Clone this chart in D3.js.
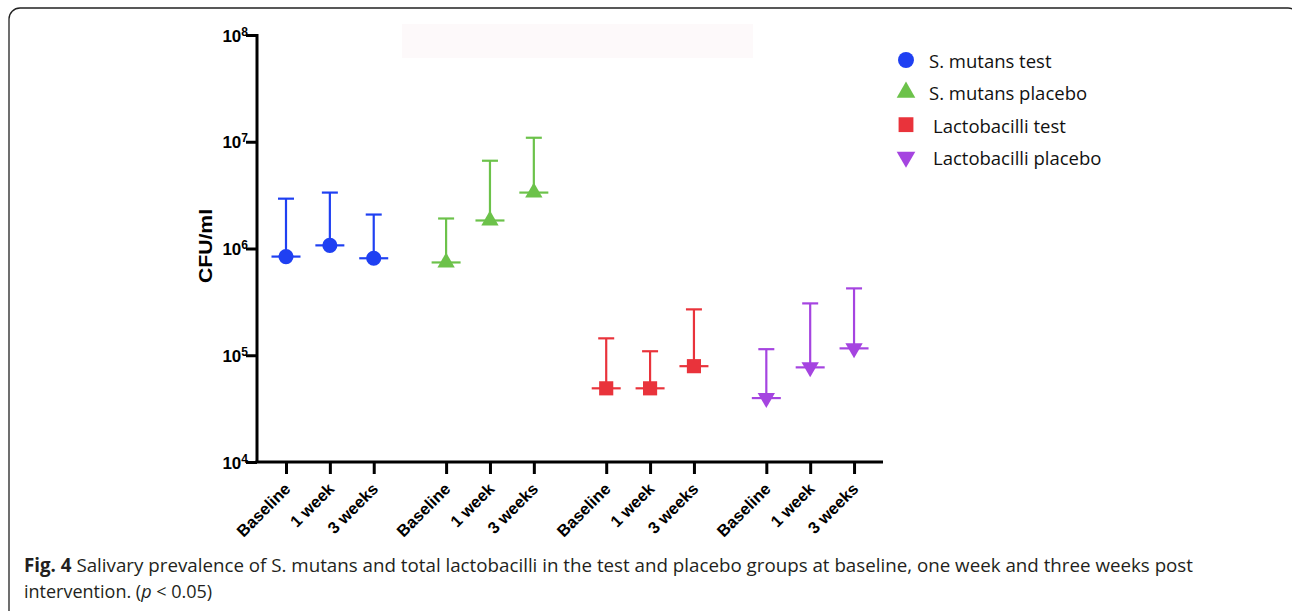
<!DOCTYPE html>
<html>
<head>
<meta charset="utf-8">
<script src="https://cdn.jsdelivr.net/npm/d3@7/dist/d3.min.js"></script>
<style>
  body { margin: 0; background: #fff; }
  svg { display: block; }
</style>
</head>
<body>
<div class="chart"></div>
<script>
// Data
var groups = ["S. mutans test", "S. mutans placebo", "Lactobacilli test", "Lactobacilli placebo"];
var timepoints = ["Baseline", "1 week", "3 weeks"];
var meanValues = [
  [0.84e6, 1.07e6, 0.81e6],
  [0.74e6, 1.83e6, 3.34e6],
  [4.9e4, 4.9e4, 7.9e4],
  [3.97e4, 7.7e4, 1.16e5]
];
var upperValues = [
  [2.93e6, 3.34e6, 2.08e6],
  [1.91e6, 6.64e6, 10.9e6],
  [1.44e5, 1.09e5, 2.69e5],
  [1.14e5, 3.06e5, 4.23e5]
];
var yTicks = [1e4, 1e5, 1e6, 1e7, 1e8];

var colors = ["#1f40f2", "#6cc24a", "#e9333b", "#a544e0"];
var symbols = [d3.symbolCircle, d3.symbolTriangle, d3.symbolSquare, d3.symbolTriangle];
var symSizes = [180, 130, 200, 130];
var symRotate = [0, 0, 0, 180];

var svgWidth = 1292;
var svgHeight = 611;

var svg = d3.select(".chart")
  .append("svg")
  .attr("width", svgWidth)
  .attr("height", svgHeight);

// frame
svg.append("rect")
  .attr("x", 9).attr("y", 8)
  .attr("width", 1290).attr("height", 615)
  .attr("rx", 11)
  .attr("fill", "none")
  .attr("stroke", "#222")
  .attr("stroke-width", 1.3);

// faint strip near top
svg.append("rect")
  .attr("x", 402).attr("y", 24)
  .attr("width", 351).attr("height", 34)
  .attr("fill", "#fdf9fa");

// flatten points
var points = [];
groups.forEach(function(g, gi) {
  timepoints.forEach(function(t, ti) {
    points.push({ group: gi, time: ti, pos: gi * 3.65 + ti, mean: meanValues[gi][ti], upper: upperValues[gi][ti] });
  });
});

// scales
var x = d3.scaleLinear().domain([-0.661, 13.61]).range([257, 883]);
var y = d3.scaleLog().domain([1e4, 1e8]).range([462, 35]);

var axisFont = "'Liberation Sans', Arial, sans-serif";

// y axis
var yAxisG = svg.append("g")
  .attr("transform", "translate(257,0)")
  .call(d3.axisLeft(y).tickValues(yTicks).tickSize(11).tickFormat(""));

yAxisG.select(".domain").attr("stroke-width", 3).attr("d", "M0,462V34");
yAxisG.selectAll(".tick line").attr("stroke-width", 3);

yAxisG.selectAll(".tick").each(function(d) {
  var t = d3.select(this).append("text")
    .attr("x", -9)
    .attr("dy", "0.36em")
    .attr("text-anchor", "end")
    .attr("fill", "#000")
    .attr("font-family", axisFont)
    .attr("font-weight", "bold")
    .attr("font-size", "17px");
  t.append("tspan").text("10");
  t.append("tspan").attr("dy", "-0.5em").attr("font-size", "12px").text(Math.round(Math.log10(d)));
});

// x axis
var xAxisG = svg.append("g")
  .attr("transform", "translate(0,462)")
  .call(d3.axisBottom(x)
    .tickValues(points.map(function(p) { return p.pos; }))
    .tickSize(12)
    .tickFormat(function(d, i) { return timepoints[i % 3]; }));

xAxisG.select(".domain").attr("stroke-width", 3).attr("d", "M255.5,0H883");
xAxisG.selectAll(".tick line").attr("stroke-width", 3);
xAxisG.selectAll(".tick text")
  .attr("font-family", axisFont)
  .attr("font-weight", "bold")
  .attr("font-size", "16.5px")
  .attr("fill", "#000")
  .attr("text-anchor", "end")
  .attr("x", 0).attr("y", 0).attr("dy", 0)
  .attr("transform", "translate(5,28) rotate(-45)");

// y label
svg.append("text")
  .attr("transform", "translate(212,246) rotate(-90)")
  .attr("text-anchor", "middle")
  .attr("font-family", axisFont)
  .attr("font-weight", "bold")
  .attr("font-size", "18px")
  .attr("textLength", 74)
  .attr("lengthAdjust", "spacingAndGlyphs")
  .text("CFU/ml");

// error bars
var bars = svg.append("g").selectAll("g")
  .data(points)
  .enter()
  .append("g")
  .attr("stroke", function(d) { return colors[d.group]; })
  .attr("stroke-width", 2.2);

bars.append("line")
  .attr("x1", function(d) { return x(d.pos); })
  .attr("x2", function(d) { return x(d.pos); })
  .attr("y1", function(d) { return y(d.mean); })
  .attr("y2", function(d) { return y(d.upper); });

bars.append("line")
  .attr("x1", function(d) { return x(d.pos) - 8; })
  .attr("x2", function(d) { return x(d.pos) + 8; })
  .attr("y1", function(d) { return y(d.upper); })
  .attr("y2", function(d) { return y(d.upper); });

bars.append("line")
  .attr("x1", function(d) { return x(d.pos) - 14.5; })
  .attr("x2", function(d) { return x(d.pos) + 14.5; })
  .attr("y1", function(d) { return y(d.mean); })
  .attr("y2", function(d) { return y(d.mean); });

// markers
svg.append("g").selectAll("path")
  .data(points)
  .enter()
  .append("path")
  .attr("d", function(d) { return d3.symbol().type(symbols[d.group]).size(symSizes[d.group])(); })
  .attr("transform", function(d) {
    return "translate(" + x(d.pos) + "," + y(d.mean) + ") rotate(" + symRotate[d.group] + ")";
  })
  .attr("fill", function(d) { return colors[d.group]; });

// legend
var legendY = d3.scalePoint().domain(groups).range([60, 157]);
var legend = svg.append("g").selectAll("g")
  .data(groups)
  .enter()
  .append("g")
  .attr("transform", function(d) { return "translate(906," + legendY(d) + ")"; });

legend.append("path")
  .attr("d", function(d, i) { return d3.symbol().type(symbols[i]).size(symSizes[i] + 20)(); })
  .attr("transform", function(d, i) { return "rotate(" + symRotate[i] + ")"; })
  .attr("fill", function(d, i) { return colors[i]; });

legend.append("text")
  .attr("x", function(d, i) { return i < 2 ? 23 : 27; })
  .attr("y", 8)
  .attr("font-family", "'Open Sans', sans-serif")
  .attr("font-weight", 500)
  .attr("font-size", "18.5px")
  .attr("fill", "#111")
  .text(function(d) { return d; });

// caption
var capFont = "'Open Sans', sans-serif";
var cap1 = svg.append("text")
  .attr("x", 24).attr("y", 572)
  .attr("font-family", capFont)
  .attr("font-size", "19px")
  .attr("fill", "#231f20")
  .attr("textLength", 1169)
  .attr("lengthAdjust", "spacingAndGlyphs");
cap1.append("tspan").attr("font-weight", "bold").text("Fig. 4");
cap1.append("tspan").text(" Salivary prevalence of S. mutans and total lactobacilli in the test and placebo groups at baseline, one week and three weeks post");

var cap2 = svg.append("text")
  .attr("x", 24).attr("y", 598)
  .attr("font-family", capFont)
  .attr("font-size", "18px")
  .attr("fill", "#231f20");
cap2.append("tspan").text("intervention. (");
cap2.append("tspan").attr("font-style", "italic").text("p");
cap2.append("tspan").text(" < 0.05)");
</script>
</body>
</html>
